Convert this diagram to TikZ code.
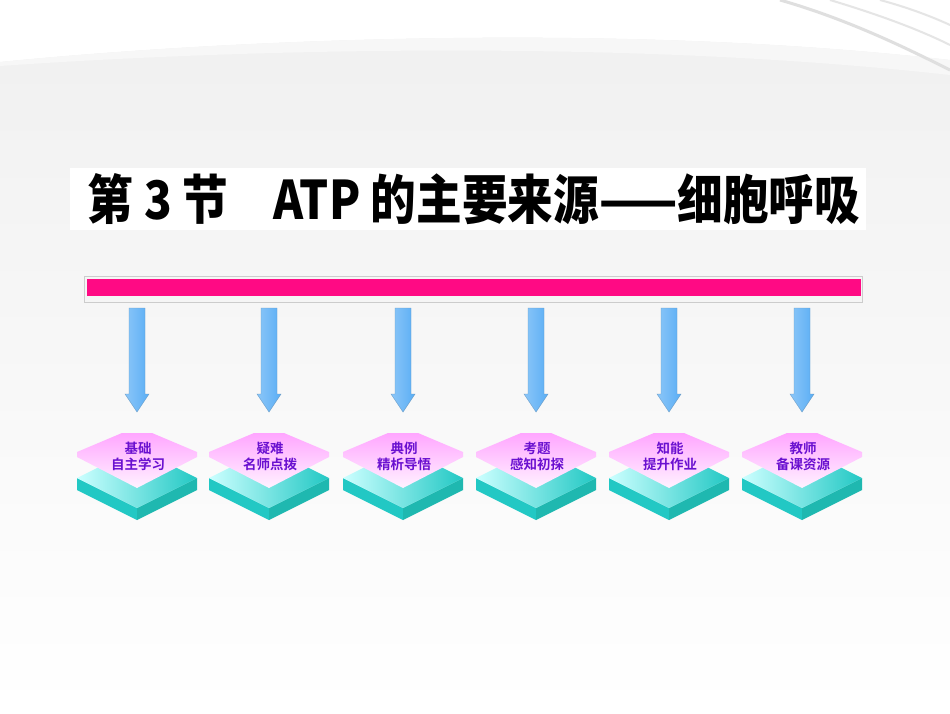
\documentclass[tikz,border=0pt]{standalone}
\usepackage{fontspec}
\newfontfamily\cjk{Noto Sans CJK SC Bold}
\newfontfamily\cjkb{Noto Sans CJK SC Black}
\usetikzlibrary{shadings}
\definecolor{pinkbar}{HTML}{FF0A84}
\definecolor{txtp}{HTML}{6A10D0}
\definecolor{arrowb}{HTML}{5AAEF5}
\definecolor{tealside}{HTML}{1FB8B0}
\definecolor{tealside2}{HTML}{22C8C4}
\tikzset{
 arr/.style={left color=arrowb!70!white, right color=arrowb, middle color=arrowb!85!white, draw=arrowb!60!gray, line width=0.4pt},
 lab/.style={font=\cjk\fontsize{13.5}{16}\selectfont, text=txtp, align=center},
}
\begin{document}
\begin{tikzpicture}[x=1pt,y=-1pt]
\useasboundingbox (0,0) rectangle (950,713);
\shade[top color=gray!12, bottom color=white] (0,0) rectangle (950,713);
\fill[white] (0,0) -- (0,62) .. controls (200,42) and (600,20) .. (950,60) -- (950,0) -- cycle;
\fill[gray!6] (0,62) .. controls (200,42) and (600,20) .. (950,60) -- (950,75) .. controls (600,36) and (200,52) .. (0,66) -- cycle;
\draw[gray!25, line width=3pt] (780,0) .. controls (850,20) and (910,50) .. (950,70);
\draw[gray!20, line width=2pt] (830,0) .. controls (880,15) and (920,30) .. (950,45);
\draw[gray!20, line width=2pt] (880,0) .. controls (910,8) and (935,18) .. (950,25);
% title
\node[fill=white, minimum width=796pt, minimum height=62pt, inner sep=0pt] (tb) at (468,199) {};
\node (title) at (474,199) {\resizebox{772pt}{46pt}{\cjkb 第 3 节\hspace{1em}ATP 的主要来源——细胞呼吸}};
% bar
\fill[gray!8] (84,276) rectangle (862,302);
\draw[gray!40] (84,276) rectangle (862,302);
\node[fill=pinkbar, minimum width=774pt, minimum height=17pt, inner sep=0pt] (bar) at (474,287.5) {};
\foreach \x/\a/\b [count=\i] in {137/基础/自主学习,269/疑难/名师点拨,403/典例/精析导悟,536/考题/感知初探,669/知能/提升作业,802/教师/备课资源}{
  \coordinate (top\i) at (\x,308);
  \shade[arr] (\x-8,308) -- (\x+8,308) -- (\x+8,394) -- (\x+12,394) -- (\x,412) -- (\x-12,394) -- (\x-8,394) -- cycle;
  % cyan slab
  \fill[tealside2] (\x-60,478) -- (\x,508) -- (\x,520) -- (\x-60,490) -- cycle;
  \fill[tealside] (\x+60,478) -- (\x,508) -- (\x,520) -- (\x+60,490) -- cycle;
  \shade[left color=cyan!20, right color=tealside2] (\x-60,478) -- (\x,448) -- (\x+60,478) -- (\x,508) -- cycle;
  % pink top
  \shade[top color=magenta!35, bottom color=magenta!5] (\x-15,433) -- (\x+15,433) -- (\x+60,452) -- (\x+60,457) -- (\x,488) -- (\x-60,457) -- (\x-60,452) -- cycle;
  \node[lab] (n\i) at (\x+1,456) {\a\\\b};
}
\end{tikzpicture}
\end{document}
